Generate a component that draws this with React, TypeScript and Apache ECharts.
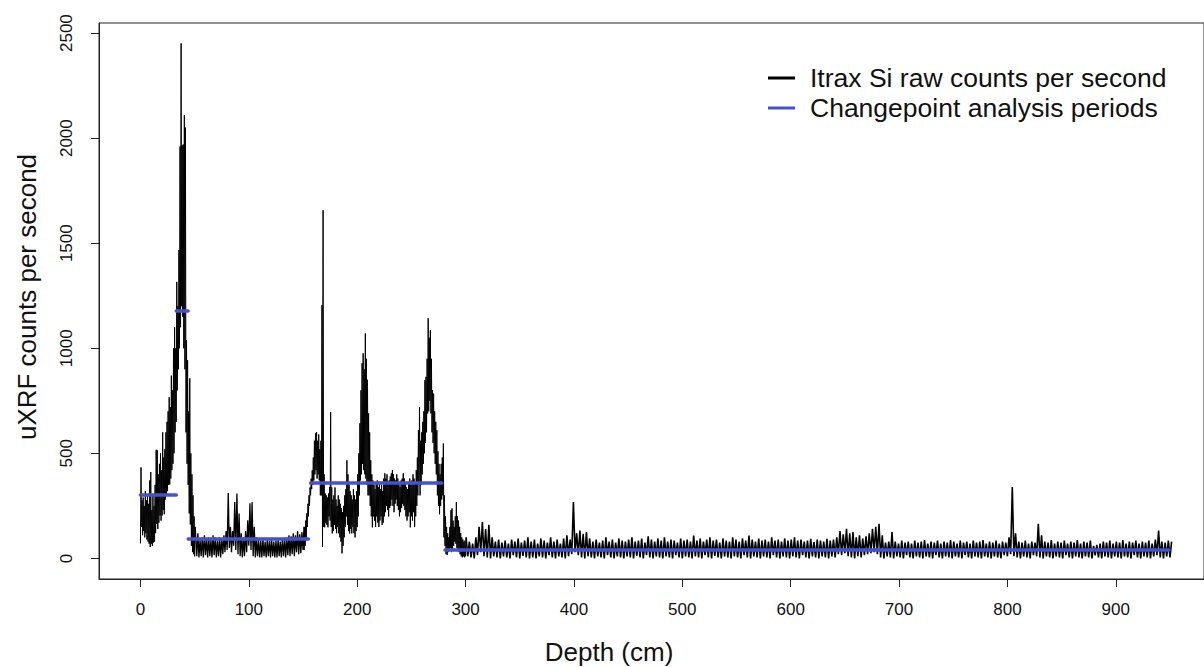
import React, { useEffect, useRef } from "react";
import * as echarts from "echarts";

// ---------- axis ticks ----------
const X_TICKS = [0, 100, 200, 300, 400, 500, 600, 700, 800, 900];
const Y_TICKS = [0, 500, 1000, 1500, 2000, 2500];

// ---------- Itrax Si raw counts (min / max envelope read per depth step) ----------
// Section A: 0..50 cm, every 1 cm
const A_START = 0;
const A_STEP = 1;
const siLowA = [
  71, 150, 110, 130, 100, 120, 90, 80, 70, 55,
  70, 60, 76, 80, 120, 165, 140, 170, 204, 180,
  204, 230, 210, 280, 300, 320, 350, 352, 380, 420,
  450, 500, 600, 650, 800, 900, 1000, 1100, 1200, 1150,
  1000, 900, 600, 450, 350, 214, 162, 60, 30, 20,
  10,
];
const siHighA = [
  433, 276, 290, 250, 320, 276, 300, 260, 371, 411,
  230, 300, 250, 350, 517, 514, 400, 450, 500, 420,
  600, 480, 520, 600, 650, 700, 767, 720, 870, 800,
  1000, 1100, 1000, 1316, 1200, 1467, 1960, 2451, 1967, 1970,
  2110, 2050, 1038, 943, 700, 857, 500, 400, 300, 200,
  150,
];

// Section B: 52..150 cm, every 2 cm
const B_START = 52;
const B_STEP = 2;
const siLowB = [
  10, 5, 10, 5, 15, 5, 10, 5, 15, 5,
  10, 5, 20, 30, 40, 50, 30, 60, 40, 20,
  10, 5, 10, 30, 60, 40, 10, 5, 10, 5,
  5, 10, 5, 10, 5, 10, 5, 5, 10, 5,
  10, 5, 15, 10, 20, 10, 30, 20, 25, 40,
];
const siHighB = [
  120, 90, 100, 110, 95, 100, 90, 110, 100, 85,
  100, 95, 110, 130, 311, 150, 130, 268, 309, 214,
  120, 100, 130, 181, 262, 268, 150, 100, 90, 85,
  95, 80, 90, 85, 95, 80, 85, 90, 80, 95,
  90, 100, 110, 105, 120, 110, 130, 115, 125, 150,
];

// Section C: 151..300 cm, every 1 cm
const C_START = 151;
const C_STEP = 1;
const siLowC = [
  40, 60, 100, 150, 200, 250, 300, 330, 350, 371,
  400, 420, 380, 400, 371, 300, 300, 54, 150, 148,
  170, 160, 148, 200, 180, 150, 119, 130, 160, 140,
  120, 150, 119, 100, 80, 24, 60, 100, 150, 200,
  160, 130, 119, 140, 119, 150, 120, 100, 130, 150,
  200, 300, 371, 400, 450, 420, 400, 380, 350, 300,
  300, 250, 200, 148, 200, 180, 150, 200, 170, 150,
  180, 200, 160, 170, 200, 220, 250, 230, 200, 240,
  250, 280, 250, 220, 260, 280, 250, 230, 200, 220,
  240, 260, 250, 230, 200, 180, 200, 220, 148, 200,
  180, 220, 150, 200, 250, 300, 350, 300, 350, 400,
  450, 500, 550, 600, 690, 700, 750, 690, 600, 550,
  500, 450, 400, 300, 250, 210, 250, 280, 300, 100,
  60, 20, 17, 30, 40, 50, 30, 40, 60, 80,
  70, 50, 40, 30, 20, 10, 5, 10, 5, 10,
];
const siHighC = [
  150, 180, 214, 260, 300, 338, 380, 419, 480, 560,
  595, 601, 560, 590, 520, 560, 1205, 1657, 400, 309,
  300, 290, 309, 340, 697, 338, 280, 300, 338, 280,
  250, 300, 280, 260, 240, 220, 250, 300, 330, 467,
  400, 350, 320, 300, 280, 330, 300, 280, 320, 400,
  500, 643, 800, 929, 976, 900, 1071, 950, 850, 690,
  600, 467, 400, 371, 350, 330, 360, 371, 340, 360,
  330, 350, 320, 380, 405, 380, 400, 360, 371, 390,
  405, 420, 400, 380, 371, 400, 380, 360, 340, 371,
  380, 405, 380, 360, 340, 330, 360, 380, 350, 371,
  400, 380, 360, 420, 480, 610, 720, 560, 600, 650,
  700, 848, 864, 950, 1143, 1050, 1086, 950, 800, 784,
  700, 650, 610, 510, 450, 400, 450, 480, 547, 300,
  200, 150, 120, 100, 150, 229, 238, 180, 150, 200,
  268, 200, 180, 150, 120, 100, 90, 80, 85, 100,
];

// Section D: 302..950 cm, every 3 cm
const D_START = 302;
const D_STEP = 3;
const siLowD = [
  10, 5, 0, 15, 30, 10, 5, 0, 10, 5,
  0, 10, 5, 0, 15, 5, 0, 12, 5, 0,
  5, 0, 10, 5, 0, 15, 5, 0, 10, 5,
  0, 10, 20, 30, 15, 5, 0, 10, 5, 0,
  10, 5, 0, 15, 5, 0, 10, 5, 0, 10,
  5, 0, 12, 5, 0, 15, 5, 0, 10, 5,
  0, 10, 5, 0, 15, 5, 0, 10, 5, 0,
  10, 5, 0, 15, 5, 0, 12, 5, 0, 10,
  5, 0, 10, 5, 0, 15, 5, 0, 10, 5,
  0, 10, 5, 0, 15, 5, 0, 10, 5, 0,
  10, 5, 0, 15, 5, 0, 10, 5, 0, 10,
  5, 0, 10, 5, 20, 15, 25, 10, 5, 0,
  10, 5, 15, 20, 25, 30, 20, 5, 0, 10,
  5, 0, 10, 5, 0, 15, 5, 0, 10, 5,
  0, 10, 5, 0, 15, 5, 0, 10, 5, 0,
  10, 5, 0, 15, 5, 0, 10, 5, 0, 10,
  5, 0, 10, 5, 0, 15, 10, 20, 10, 5,
  0, 10, 5, 0, 15, 10, 5, 0, 10, 5,
  0, 10, 5, 0, 15, 5, 0, 10, 5, 0,
  10, 5, 0, 15, 5, 0, 10, 5, 0, 10,
  5, 0, 10, 5, 0, 15, 5, 0, 10, 5,
  0, 10, 15, 5, 0, 10, 5,
];
const siHighD = [
  80, 70, 100, 150, 173, 140, 160, 100, 80, 90,
  75, 85, 70, 90, 80, 95, 75, 85, 100, 80,
  90, 70, 95, 85, 75, 100, 80, 90, 70, 95,
  110, 90, 268, 120, 133, 117, 125, 95, 80, 90,
  75, 85, 100, 80, 90, 75, 95, 85, 80, 90,
  100, 80, 85, 95, 75, 105, 90, 80, 95, 85,
  100, 80, 90, 85, 75, 95, 85, 90, 80, 109,
  85, 95, 80, 90, 100, 85, 90, 75, 95, 85,
  80, 100, 90, 80, 95, 85, 109, 90, 80, 95,
  85, 90, 80, 100, 85, 90, 80, 95, 85, 90,
  100, 85, 90, 80, 85, 93, 78, 90, 85, 80,
  93, 85, 90, 100, 130, 115, 141, 120, 125, 100,
  110, 95, 105, 120, 141, 150, 165, 110, 75, 80,
  125, 80, 70, 85, 75, 80, 70, 85, 75, 80,
  87, 70, 80, 75, 85, 70, 80, 75, 87, 80,
  70, 85, 75, 80, 70, 85, 75, 80, 87, 70,
  80, 75, 85, 70, 80, 75, 100, 340, 120, 80,
  75, 85, 70, 80, 75, 165, 110, 80, 75, 87,
  70, 80, 75, 85, 70, 80, 75, 87, 70, 80,
  75, 85, 60, 65, 70, 80, 75, 85, 70, 80,
  75, 87, 70, 80, 75, 85, 70, 80, 75, 85,
  70, 90, 133, 80, 75, 85, 80,
];

// ---------- Changepoint analysis periods ----------
const cpStart = [0, 33, 44, 157, 281];
const cpEnd = [33, 44, 155, 278, 949];
const cpMean = [305, 1180, 92, 362, 41];

const LEGEND_LABELS = ["Itrax Si raw counts per second", "Changepoint analysis periods"];
const BLUE = "#4452d2";
const FONT = "'Liberation Sans', Arial, sans-serif";

function sectionPoints(start: number, step: number, lo: number[], hi: number[]) {
  const out: number[][] = [];
  for (let i = 0; i < lo.length; i++) {
    const d = start + i * step;
    out.push([d, lo[i]]);
    out.push([d + step / 2, hi[i]]);
  }
  return out;
}

export default function App() {
  const ref = useRef<HTMLDivElement>(null);
  useEffect(() => {
    if (!ref.current) return;
    const chart = echarts.init(ref.current, null, { renderer: "svg" });
    const secA = sectionPoints(A_START, A_STEP, siLowA, siHighA);
    const secB = sectionPoints(B_START, B_STEP, siLowB, siHighB);
    const secC = sectionPoints(C_START, C_STEP, siLowC, siHighC);
    const secD = sectionPoints(D_START, D_STEP, siLowD, siHighD);
    // each section joins the last point of the previous one
    const sections = [
      { data: secA, width: 1 },
      { data: [secA[secA.length - 1], ...secB], width: 1.3 },
      { data: [secB[secB.length - 1], ...secC], width: 1 },
      { data: [secC[secC.length - 1], ...secD], width: 1.6 },
    ];

    const cpData = cpStart.map((s, i) => ({ coords: [[s, cpMean[i]], [cpEnd[i], cpMean[i]]] }));

    const siSeries = sections.map((s) => ({
      name: LEGEND_LABELS[0],
      type: "line",
      data: s.data,
      showSymbol: false,
      symbol: "none",
      lineStyle: { color: "#000", width: s.width },
      z: 2,
    }));

    chart.setOption({
      animation: false,
      backgroundColor: "#ffffff",
      textStyle: { fontFamily: FONT },
      grid: {
        left: 99,
        top: 23,
        right: -1,
        bottom: 88,
        show: true,
        borderColor: "#222",
        borderWidth: 1,
        backgroundColor: "transparent",
      },
      xAxis: {
        type: "value",
        min: -38.26,
        max: 981.4,
        splitLine: { show: false },
        axisLine: { show: true, onZero: false, lineStyle: { color: "#222", width: 1 } },
        axisTick: { show: true, customValues: X_TICKS, length: 8, lineStyle: { color: "#222" } },
        axisLabel: {
          customValues: X_TICKS,
          fontSize: 17,
          color: "#111",
          margin: 22,
          fontFamily: FONT,
          formatter: (v: number) => String(v),
        },
      },
      yAxis: {
        type: "value",
        min: -98,
        max: 2548,
        splitLine: { show: false },
        axisLine: { show: true, onZero: false, lineStyle: { color: "#222", width: 1 } },
        axisTick: { show: true, customValues: Y_TICKS, length: 8, lineStyle: { color: "#222" } },
        axisLabel: {
          customValues: Y_TICKS,
          rotate: 90,
          fontSize: 17,
          color: "#111",
          margin: 24,
          fontFamily: FONT,
          formatter: (v: number) => String(v),
        },
      },
      series: [
        ...siSeries,
        {
          name: LEGEND_LABELS[1],
          type: "lines",
          coordinateSystem: "cartesian2d",
          polyline: false,
          data: cpData,
          lineStyle: { color: BLUE, width: 3.5, opacity: 1, cap: "round" },
          z: 3,
        },
      ],
      graphic: [
        {
          type: "text",
          x: 27,
          y: 297,
          rotation: Math.PI / 2,
          style: {
            text: "uXRF counts per second",
            fontSize: 26,
            fontFamily: FONT,
            fill: "#111",
            align: "center",
            verticalAlign: "middle",
          },
        },
        {
          type: "text",
          x: 609,
          y: 652,
          style: {
            text: "Depth (cm)",
            fontSize: 26,
            fontFamily: FONT,
            fill: "#111",
            align: "center",
            verticalAlign: "middle",
          },
        },
        {
          type: "line",
          shape: { x1: 768, y1: 78, x2: 795, y2: 78 },
          style: { stroke: "#000", lineWidth: 3 },
        },
        {
          type: "line",
          shape: { x1: 768, y1: 108, x2: 795, y2: 108 },
          style: { stroke: BLUE, lineWidth: 3 },
        },
        {
          type: "text",
          x: 810,
          y: 78,
          style: {
            text: LEGEND_LABELS[0],
            fontSize: 26.5,
            fontFamily: FONT,
            fill: "#111",
            align: "left",
            verticalAlign: "middle",
          },
        },
        {
          type: "text",
          x: 810,
          y: 108,
          style: {
            text: LEGEND_LABELS[1],
            fontSize: 26.5,
            fontFamily: FONT,
            fill: "#111",
            align: "left",
            verticalAlign: "middle",
          },
        },
      ],
    });
    return () => chart.dispose();
  }, []);
  return (
    <div
      ref={ref}
      style={{ position: "absolute", left: 0, top: 0, width: 1204, height: 667 }}
    />
  );
}
